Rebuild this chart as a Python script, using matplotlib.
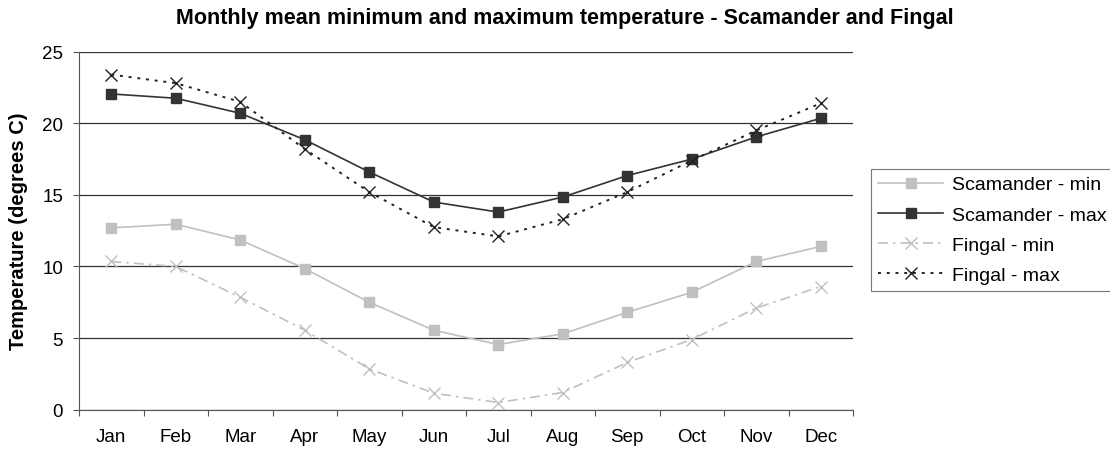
import numpy as np
import matplotlib
matplotlib.use('Agg')
import matplotlib.pyplot as plt

plt.rcParams['font.family'] = ['Liberation Sans', 'DejaVu Sans']

# data
months = ['Jan', 'Feb', 'Mar', 'Apr', 'May', 'Jun',
          'Jul', 'Aug', 'Sep', 'Oct', 'Nov', 'Dec']
scamander_min = [12.7, 12.95, 11.85, 9.85, 7.5, 5.55, 4.55, 5.3, 6.8, 8.2, 10.35, 11.4]
scamander_max = [22.05, 21.75, 20.7, 18.85, 16.6, 14.5, 13.8, 14.85, 16.35, 17.5, 19.05, 20.35]
fingal_min = [10.35, 10.0, 7.85, 5.55, 2.85, 1.15, 0.5, 1.2, 3.3, 4.9, 7.1, 8.6]
fingal_max = [23.4, 22.8, 21.5, 18.2, 15.2, 12.75, 12.1, 13.3, 15.2, 17.4, 19.5, 21.4]

x = np.arange(len(months))

fig = plt.figure(figsize=(11.1, 4.52), dpi=100)
ax = fig.add_axes([0.0712, 0.0914, 0.6973, 0.792])

ax.plot(x, scamander_min, color='#c0c0c0', lw=1.2, marker='s', ms=7.5,
        label='Scamander - min')
ax.plot(x, scamander_max, color='#333333', lw=1.2, marker='s', ms=7.5,
        label='Scamander - max')
ax.plot(x, fingal_min, color='#c0c0c0', lw=1.2, ls=(0, (6, 3, 1.5, 3)),
        marker='x', ms=8.5, mew=1.0, label='Fingal - min')
ax.plot(x, fingal_max, color='#222222', lw=1.4, ls=(0, (1.5, 3)),
        marker='x', ms=8.5, mew=1.0, label='Fingal - max')

ax.set_xlim(-0.5, 11.5)
ax.set_ylim(0, 25)
ax.set_yticks(np.arange(0, 26, 5))
ax.yaxis.grid(True, color='#333333', lw=0.9)
ax.set_axisbelow(True)

# tick marks between categories, labels at centres
ax.set_xticks(np.arange(-0.5, 12, 1))
ax.set_xticklabels([])
ax.set_xticks(x, minor=True)
ax.set_xticklabels(months, minor=True)
ax.tick_params(axis='x', which='major', length=4.5, direction='out', color='#555555')
ax.tick_params(axis='x', which='minor', length=0, pad=13, labelsize=13.5)
ax.tick_params(axis='y', length=4.5, pad=7, color='#555555', labelsize=13.5)

for s in ['top', 'right']:
    ax.spines[s].set_visible(False)
for s in ['left', 'bottom']:
    ax.spines[s].set_color('#555555')

fig.text(18.5 / 1110, 0.4874, 'Temperature (degrees C)', rotation=90,
         ha='center', va='center', fontsize=14.5, fontweight='bold')
fig.text(0.509, 0.96, 'Monthly mean minimum and maximum temperature - Scamander and Fingal',
         ha='center', va='center', fontsize=15.5, fontweight='bold')

leg = ax.legend(loc='upper left', bbox_to_anchor=(0.785, 0.624),
                bbox_transform=fig.transFigure, fontsize=14,
                frameon=True, fancybox=False, edgecolor='#555555',
                handlelength=3.35, borderpad=0.35, labelspacing=0.65,
                handletextpad=0.45, borderaxespad=0)
leg.get_frame().set_linewidth(0.8)

fig.savefig('out.png', dpi=100)
